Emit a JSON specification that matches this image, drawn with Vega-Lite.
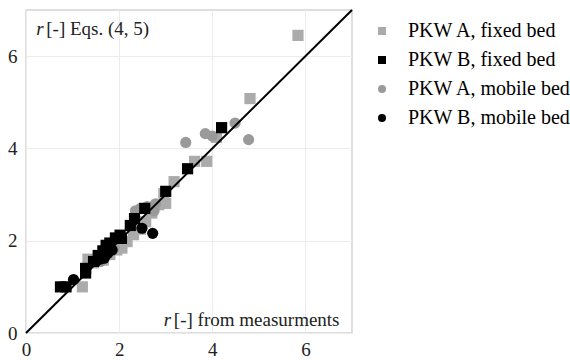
{
  "$schema": "https://vega.github.io/schema/vega-lite/v6.json",
  "width": 326,
  "height": 323,
  "autosize": "none",
  "padding": {"left": 26, "top": 10, "right": 218, "bottom": 27},
  "background": "white",
  "config": {
    "font": "'Liberation Serif', 'Times New Roman', serif",
    "view": {"stroke": "#d4d4d4", "strokeWidth": 1.5},
    "axis": {"grid": true, "gridColor": "#ececec", "gridWidth": 1, "domain": false, "ticks": false, "labelFont": "'Liberation Serif', 'Times New Roman', serif", "labelFontSize": 19, "labelColor": "#222", "title": null},
    "legend": {"labelFont": "'Liberation Serif', 'Times New Roman', serif"},
    "text": {"font": "'Liberation Serif', 'Times New Roman', serif"}
  },
  "datasets": {
    "pts": [
      {"x": 1.21, "y": 1.0, "series": "PKW A, fixed bed"},
      {"x": 1.33, "y": 1.6, "series": "PKW A, fixed bed"},
      {"x": 1.45, "y": 1.52, "series": "PKW A, fixed bed"},
      {"x": 1.66, "y": 1.58, "series": "PKW A, fixed bed"},
      {"x": 1.8, "y": 1.7, "series": "PKW A, fixed bed"},
      {"x": 1.95, "y": 1.8, "series": "PKW A, fixed bed"},
      {"x": 2.06, "y": 1.84, "series": "PKW A, fixed bed"},
      {"x": 2.17, "y": 1.98, "series": "PKW A, fixed bed"},
      {"x": 2.31, "y": 2.13, "series": "PKW A, fixed bed"},
      {"x": 2.46, "y": 2.25, "series": "PKW A, fixed bed"},
      {"x": 2.57, "y": 2.41, "series": "PKW A, fixed bed"},
      {"x": 2.7, "y": 2.6, "series": "PKW A, fixed bed"},
      {"x": 2.85, "y": 2.78, "series": "PKW A, fixed bed"},
      {"x": 3.0, "y": 2.81, "series": "PKW A, fixed bed"},
      {"x": 2.96, "y": 3.02, "series": "PKW A, fixed bed"},
      {"x": 3.18, "y": 3.28, "series": "PKW A, fixed bed"},
      {"x": 3.62, "y": 3.72, "series": "PKW A, fixed bed"},
      {"x": 3.88, "y": 3.72, "series": "PKW A, fixed bed"},
      {"x": 4.09, "y": 4.24, "series": "PKW A, fixed bed"},
      {"x": 4.81, "y": 5.08, "series": "PKW A, fixed bed"},
      {"x": 5.84, "y": 6.45, "series": "PKW A, fixed bed"},
      {"x": 1.6, "y": 1.55, "series": "PKW A, mobile bed"},
      {"x": 1.9, "y": 1.85, "series": "PKW A, mobile bed"},
      {"x": 2.35, "y": 2.65, "series": "PKW A, mobile bed"},
      {"x": 2.46, "y": 2.7, "series": "PKW A, mobile bed"},
      {"x": 2.6, "y": 2.74, "series": "PKW A, mobile bed"},
      {"x": 2.75, "y": 2.65, "series": "PKW A, mobile bed"},
      {"x": 2.78, "y": 2.8, "series": "PKW A, mobile bed"},
      {"x": 3.43, "y": 4.13, "series": "PKW A, mobile bed"},
      {"x": 3.85, "y": 4.32, "series": "PKW A, mobile bed"},
      {"x": 4.0, "y": 4.27, "series": "PKW A, mobile bed"},
      {"x": 4.49, "y": 4.55, "series": "PKW A, mobile bed"},
      {"x": 4.78, "y": 4.19, "series": "PKW A, mobile bed"},
      {"x": 0.74, "y": 1.0, "series": "PKW B, fixed bed"},
      {"x": 0.86, "y": 1.0, "series": "PKW B, fixed bed"},
      {"x": 1.28, "y": 1.3, "series": "PKW B, fixed bed"},
      {"x": 1.28, "y": 1.4, "series": "PKW B, fixed bed"},
      {"x": 1.45, "y": 1.55, "series": "PKW B, fixed bed"},
      {"x": 1.55, "y": 1.68, "series": "PKW B, fixed bed"},
      {"x": 1.65, "y": 1.78, "series": "PKW B, fixed bed"},
      {"x": 1.72, "y": 1.9, "series": "PKW B, fixed bed"},
      {"x": 1.8, "y": 1.95, "series": "PKW B, fixed bed"},
      {"x": 1.92, "y": 2.06, "series": "PKW B, fixed bed"},
      {"x": 2.02, "y": 2.12, "series": "PKW B, fixed bed"},
      {"x": 2.05, "y": 2.05, "series": "PKW B, fixed bed"},
      {"x": 2.24, "y": 2.33, "series": "PKW B, fixed bed"},
      {"x": 2.33, "y": 2.48, "series": "PKW B, fixed bed"},
      {"x": 2.55, "y": 2.7, "series": "PKW B, fixed bed"},
      {"x": 3.0, "y": 3.07, "series": "PKW B, fixed bed"},
      {"x": 3.47, "y": 3.56, "series": "PKW B, fixed bed"},
      {"x": 4.2, "y": 4.45, "series": "PKW B, fixed bed"},
      {"x": 1.02, "y": 1.16, "series": "PKW B, mobile bed"},
      {"x": 1.5, "y": 1.55, "series": "PKW B, mobile bed"},
      {"x": 1.6, "y": 1.6, "series": "PKW B, mobile bed"},
      {"x": 1.68, "y": 1.62, "series": "PKW B, mobile bed"},
      {"x": 1.75, "y": 1.72, "series": "PKW B, mobile bed"},
      {"x": 1.85, "y": 1.8, "series": "PKW B, mobile bed"},
      {"x": 2.49, "y": 2.27, "series": "PKW B, mobile bed"},
      {"x": 2.72, "y": 2.16, "series": "PKW B, mobile bed"}
    ],
    "diag": [{"x": 0, "y": 0}, {"x": 7, "y": 7}],
    "notes": [
      {"part": "r", "rest": "[-] Eqs. (4, 5)", "nx": 0.22, "ny": 6.58},
      {"part": "r", "rest": "[-] from measurments", "nx": 2.96, "ny": 0.28}
    ]
  },
  "layer": [
    {
      "data": {"name": "pts"},
      "mark": {"type": "point", "filled": true, "opacity": 1, "size": 125},
      "encoding": {
        "x": {"field": "x", "type": "quantitative", "scale": {"domain": [0, 7], "nice": false, "zero": false}, "axis": {"values": [0, 2, 4, 6], "labelPadding": 7, "labelFlush": false}},
        "y": {"field": "y", "type": "quantitative", "scale": {"domain": [0, 7], "nice": false, "zero": false}, "axis": {"values": [0, 2, 4, 6], "labelPadding": 9}},
        "color": {"field": "series", "type": "nominal",
          "scale": {"domain": ["PKW A, fixed bed", "PKW B, fixed bed", "PKW A, mobile bed", "PKW B, mobile bed"], "range": ["#ababab", "#000000", "#9a9a9a", "#000000"]},
          "legend": {"title": null, "orient": "none", "legendX": 346, "legendY": 11, "symbolSize": 64, "labelFontSize": 20, "labelLimit": 0, "labelOffset": 16, "rowPadding": 9, "symbolStrokeWidth": 0,
            "encode": {"labels": {"update": {"fill": {"signal": "indexof(datum.label, 'PKW A') >= 0 ? '#8f8f8f' : '#000000'"}}}}}},
        "shape": {"field": "series", "type": "nominal",
          "scale": {"domain": ["PKW A, fixed bed", "PKW B, fixed bed", "PKW A, mobile bed", "PKW B, mobile bed"], "range": ["square", "square", "circle", "circle"]}},
        "order": {"field": "series"}
      }
    },
    {
      "data": {"name": "diag"},
      "mark": {"type": "line", "color": "#000000", "strokeWidth": 2},
      "encoding": {
        "x": {"field": "x", "type": "quantitative"},
        "y": {"field": "y", "type": "quantitative"}
      }
    },
    {
      "data": {"name": "notes"},
      "mark": {"type": "text", "fontSize": 19, "fontStyle": "italic", "align": "left", "baseline": "middle", "fill": "#222"},
      "encoding": {
        "x": {"field": "nx", "type": "quantitative"},
        "y": {"field": "ny", "type": "quantitative"},
        "text": {"field": "part"}
      }
    },
    {
      "data": {"name": "notes"},
      "mark": {"type": "text", "fontSize": 19, "align": "left", "baseline": "middle", "dx": 10, "fill": "#222"},
      "encoding": {
        "x": {"field": "nx", "type": "quantitative"},
        "y": {"field": "ny", "type": "quantitative"},
        "text": {"field": "rest"}
      }
    }
  ]
}
